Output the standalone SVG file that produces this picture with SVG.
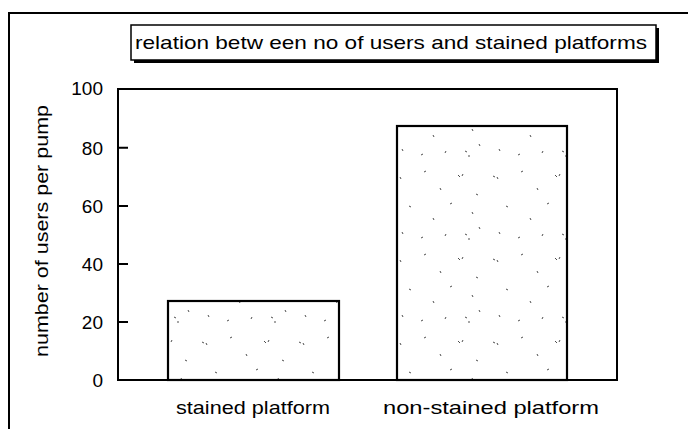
<svg xmlns="http://www.w3.org/2000/svg" width="688" height="429" viewBox="0 0 688 429">
<style>
.t{font-family:"Liberation Sans",Arial,sans-serif;font-size:19px;fill:#000}
.ln{stroke:#000;stroke-width:2;fill:none}
.bar{stroke:#000;stroke-width:2.2;fill:url(#speck)}
</style>
<defs>
<pattern id="speck" x="0" y="0" width="97" height="83" patternUnits="userSpaceOnUse">
<rect width="97" height="83" fill="#fff"/>
<g stroke="#000" stroke-width="0.7" fill="none">
<path d="M8 10l2 1M12 11l1 2M36 6l2 -1M52 22l1 2M70 9l2 2M74 10l1 -2M21 40l2 1M45 52l1 2M62 38l2 -1M84 46l1 2M88 28l2 1M14 66l1 2M33 72l2 -1M57 70l1 -2M77 68l2 1M91 61l1 2M80 73l2 0"/>
</g>
</pattern>
</defs>
<rect width="688" height="429" fill="#fff"/>
<g id="frame">
<path class="ln" d="M9 429V13H688" stroke-width="1.5"/>
</g>
<g id="title">
<rect x="134" y="28" width="525" height="35" fill="#000"/>
<rect x="131" y="25" width="525" height="35" fill="#fff" stroke="#000" stroke-width="1.5"/>
<text class="t" x="135" y="48.5" textLength="512" lengthAdjust="spacingAndGlyphs">relation betw een no of users and stained platforms</text>
</g>
<g id="axes">
<rect class="ln" x="118" y="89" width="499" height="291"/>
<path class="ln" d="M118 147.8H128M118 206H128M118 264H128M118 322H128"/>
<text class="t" x="103" y="95" text-anchor="end">100</text>
<text class="t" x="103" y="154.5" text-anchor="end">80</text>
<text class="t" x="103" y="212.5" text-anchor="end">60</text>
<text class="t" x="103" y="270.5" text-anchor="end">40</text>
<text class="t" x="103" y="328.5" text-anchor="end">20</text>
<text class="t" x="103" y="386.5" text-anchor="end">0</text>
<text class="t" transform="translate(48 231) rotate(-90)" text-anchor="middle" x="0" y="0" textLength="252" lengthAdjust="spacingAndGlyphs">number of users per pump</text>
</g>
<g id="bar-stained">
<rect class="bar" x="168" y="301" width="171" height="79"/>
<text class="t" x="176" y="414" textLength="154" lengthAdjust="spacingAndGlyphs">stained platform</text>
</g>
<g id="bar-nonstained">
<rect class="bar" x="397" y="126" width="170" height="254"/>
<text class="t" x="383" y="414" textLength="216" lengthAdjust="spacingAndGlyphs">non-stained platform</text>
</g>
</svg>
